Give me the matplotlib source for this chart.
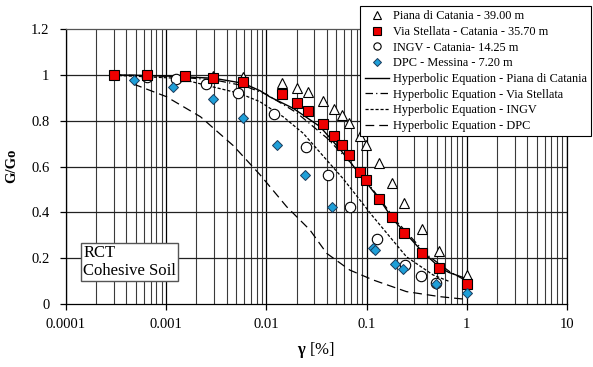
import numpy as np
import matplotlib.pyplot as plt
from matplotlib.ticker import NullFormatter, FixedLocator

plt.rcParams['font.family'] = ['Liberation Serif', 'DejaVu Serif']
plt.rcParams['mathtext.fontset'] = 'custom'
plt.rcParams['mathtext.rm'] = 'Liberation Serif'
plt.rcParams['mathtext.bf'] = 'Liberation Serif:bold'

# --- data (shear strain in %, G/Go) ---
piana_x = [0.00064, 0.00155, 0.0029, 0.0058, 0.0142, 0.0203, 0.026, 0.037, 0.047, 0.057,
           0.067, 0.086, 0.099, 0.134, 0.18, 0.238, 0.357, 0.532, 1.0]
piana_y = [1.0, 0.995, 0.993, 0.99, 0.963, 0.941, 0.924, 0.887, 0.849, 0.823,
           0.791, 0.731, 0.694, 0.614, 0.527, 0.439, 0.326, 0.231, 0.125]

stellata_x = [0.0003, 0.00064, 0.00155, 0.0029, 0.0058, 0.0142, 0.0202, 0.0262, 0.037, 0.047,
              0.057, 0.067, 0.086, 0.099, 0.134, 0.18, 0.238, 0.357, 0.532, 1.0]
stellata_y = [1.0, 1.0, 0.993, 0.986, 0.969, 0.918, 0.877, 0.843, 0.784, 0.732,
              0.692, 0.650, 0.578, 0.540, 0.458, 0.378, 0.308, 0.221, 0.157, 0.087]

ingv_x = [0.00065, 0.00124, 0.0025, 0.0052, 0.0118, 0.0247, 0.041, 0.069, 0.126, 0.24, 0.35, 0.49]
ingv_y = [0.992, 0.982, 0.961, 0.919, 0.829, 0.686, 0.563, 0.425, 0.282, 0.170, 0.122, 0.092]

dpc_x = [0.00048, 0.00116, 0.0029, 0.0059, 0.0127, 0.0241, 0.045, 0.115, 0.121, 0.19, 0.232, 0.49, 1.0]
dpc_y = [0.976, 0.948, 0.893, 0.813, 0.692, 0.563, 0.425, 0.246, 0.237, 0.175, 0.153, 0.086, 0.049]

# hyperbolic fits, sampled from the drawn curves
fit_piana_x = [0.0003, 0.001, 0.003, 0.0059, 0.0087, 0.0108, 0.0185, 0.0343, 0.055, 0.086,
               0.134, 0.183, 0.357, 0.54, 0.66, 1.0]
fit_piana_y = [1.0, 0.995, 0.985, 0.963, 0.93, 0.904, 0.854, 0.774, 0.672, 0.565,
               0.458, 0.37, 0.23, 0.158, 0.138, 0.11]

fit_stellata_x = [0.0003, 0.001, 0.003, 0.006, 0.01, 0.02, 0.04, 0.07, 0.1, 0.2, 0.4, 0.68, 1.0]
fit_stellata_y = [1.0, 0.994, 0.978, 0.952, 0.915, 0.835, 0.725, 0.615, 0.535, 0.36, 0.215, 0.14, 0.1]

fit_ingv_x = [0.0003, 0.0013, 0.0054, 0.0086, 0.0147, 0.0233, 0.04, 0.058, 0.116, 0.25, 0.46, 0.68]
fit_ingv_y = [0.998, 0.985, 0.919, 0.883, 0.817, 0.745, 0.628, 0.548, 0.381, 0.206, 0.127, 0.097]

fit_dpc_x = [0.00047, 0.001, 0.0022, 0.0047, 0.0086, 0.0159, 0.0272, 0.04, 0.068, 0.116, 0.25, 0.54, 1.0]
fit_dpc_y = [0.96, 0.905, 0.817, 0.69, 0.565, 0.425, 0.323, 0.221, 0.148, 0.105, 0.054, 0.032, 0.02]

fig = plt.figure(figsize=(5.93, 3.67), dpi=100)
ax = fig.add_axes([66 / 593, 1 - 304 / 367, 501 / 593, 275 / 367])

# grid: major and minor verticals, horizontals every 0.2
for xv in [1e-4, 1e-3, 1e-2, 1e-1, 1, 10]:
    ax.axvline(xv, color='black', lw=0.9, zorder=0)
for dec in [1e-4, 1e-3, 1e-2, 1e-1, 1]:
    for m in range(2, 10):
        ax.axvline(dec * m, color='#3a3a3a', lw=0.8, zorder=0)
for yv in [0.2, 0.4, 0.6, 0.8, 1.0]:
    ax.axhline(yv, color='#222222', lw=0.9, zorder=0)

l1, = ax.plot(fit_piana_x, fit_piana_y, color='black', lw=1.0, zorder=2)
l2, = ax.plot(fit_stellata_x, fit_stellata_y, color='black', lw=0.9, dashes=(6, 2.5, 1, 2.5), zorder=2)
l3, = ax.plot(fit_ingv_x, fit_ingv_y, color='black', lw=0.9, dashes=(2.5, 1.5), zorder=2)
l4, = ax.plot(fit_dpc_x, fit_dpc_y, color='black', lw=0.9, dashes=(7, 4), zorder=2)

m1, = ax.plot(piana_x, piana_y, ls='none', marker='^', ms=7.5, mfc='white', mec='black', mew=0.8, zorder=3)
m3, = ax.plot(ingv_x, ingv_y, ls='none', marker='o', ms=7.5, mfc='white', mec='black', mew=0.8, zorder=4)
m2, = ax.plot(stellata_x, stellata_y, ls='none', marker='s', ms=7.5, mfc='#ee0000', mec='black', mew=0.8, zorder=5)
m4, = ax.plot(dpc_x, dpc_y, ls='none', marker='D', ms=5.5, mfc='#1e9fd8', mec='#1a3a5a', mew=0.7, zorder=6)

ax.set_xscale('log')
ax.set_xlim(1e-4, 10)
ax.set_ylim(0, 1.2)
ax.set_yticks([0, 0.2, 0.4, 0.6, 0.8, 1.0, 1.2])
ax.set_yticklabels(['0', '0.2', '0.4', '0.6', '0.8', '1', '1.2'])
ax.xaxis.set_major_locator(FixedLocator([1e-4, 1e-3, 1e-2, 1e-1, 1, 10]))
ax.set_xticklabels(['0.0001', '0.001', '0.01', '0.1', '1', '10'])
ax.xaxis.set_minor_formatter(NullFormatter())
ax.tick_params(axis='x', which='minor', length=0)
ax.tick_params(axis='both', which='major', labelsize=10.5, length=4, width=0.9, direction='out', color='black')
ax.tick_params(axis='y', pad=8)
ax.tick_params(axis='x', pad=6)
for s in ax.spines.values():
    s.set_color('black')
    s.set_linewidth(0.9)
ax.spines['top'].set_color('#555555')

fig.text(12 / 593, 1 - 166 / 367, 'G/Go', rotation=90, ha='center', va='center',
         fontsize=10.5, fontweight='bold')
fig.text(316 / 593, 1 - 350 / 367, r'$\mathbf{\gamma}$ [%]', ha='center', va='center', fontsize=12)

ax.text(0.000148, 0.183, 'RCT\nCohesive Soil', fontsize=12, ha='left', va='center', linespacing=1.1,
        bbox=dict(boxstyle='square,pad=0.12', fc='white', ec='#555555', lw=1.0), zorder=7)

leg = fig.legend([m1, m2, m3, m4, l1, l2, l3, l4],
                 ['Piana di Catania - 39.00 m', 'Via Stellata - Catania - 35.70 m',
                  'INGV - Catania- 14.25 m', 'DPC - Messina - 7.20 m',
                  'Hyperbolic Equation - Piana di Catania', 'Hyperbolic Equation - Via Stellata',
                  'Hyperbolic Equation - INGV', 'Hyperbolic Equation - DPC'],
                 loc='upper right', bbox_to_anchor=(591 / 593, 1 - 6 / 367), borderaxespad=0,
                 fontsize=8.8, frameon=True, fancybox=False, edgecolor='black', framealpha=1,
                 handlelength=2.0, handletextpad=0.3, labelspacing=0.3, borderpad=0.35, markerscale=0.7)
leg.get_frame().set_linewidth(0.8)

fig.savefig('out.png', dpi=100)
